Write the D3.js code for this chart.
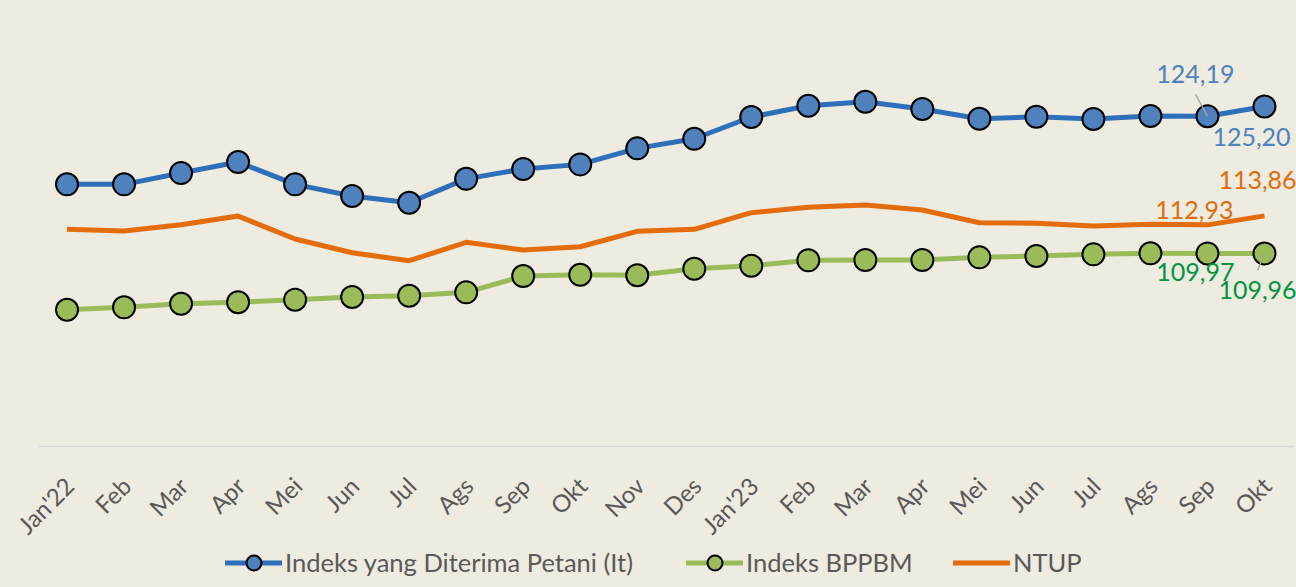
<!DOCTYPE html>
<html>
<head>
<meta charset="utf-8">
<script src="https://cdn.jsdelivr.net/npm/d3@7"></script>
<style>
  body { margin: 0; background: #eeebe0; }
  svg { display: block; }
</style>
</head>
<body>
<div id="chart"></div>
<script>
// categories
var months = ["Jan'22", "Feb", "Mar", "Apr", "Mei", "Jun", "Jul", "Ags", "Sep", "Okt", "Nov", "Des",
  "Jan'23", "Feb", "Mar", "Apr", "Mei", "Jun", "Jul", "Ags", "Sep", "Okt"];

// series values
var itValues = [117.13, 117.13, 118.30, 119.44, 117.13, 115.92, 115.22, 117.70, 118.72, 119.20, 120.86, 121.86,
  124.11, 125.28, 125.69, 124.94, 123.93, 124.14, 123.90, 124.22, 124.19, 125.20];
var bppbmValues = [104.13, 104.38, 104.75, 104.90, 105.17, 105.45, 105.58, 105.93, 107.62, 107.76, 107.70, 108.38,
  108.69, 109.25, 109.28, 109.28, 109.56, 109.70, 109.87, 109.98, 109.97, 109.96];
var ntupValues = [112.47, 112.29, 112.94, 113.84, 111.46, 110.04, 109.21, 111.12, 110.32, 110.66, 112.26, 112.47,
  114.19, 114.75, 114.98, 114.47, 113.15, 113.09, 112.81, 112.98, 112.93, 113.86];

var seriesNames = ["Indeks yang Diterima Petani (It)", "Indeks BPPBM", "NTUP"];

var W = 1296, H = 587;
var margin = { top: 12, right: 3, bottom: 141, left: 38.5 };
var font = "Lato, 'Open Sans', sans-serif";

var series = [
  { name: seriesNames[0], values: itValues, line: "#2e6fba", fill: "#4f81bd", label: "#4f81bd", marker: true },
  { name: seriesNames[1], values: bppbmValues, line: "#9bbb59", fill: "#9bbb59", label: "#00963f", marker: true },
  { name: seriesNames[2], values: ntupValues, line: "#e46c0a", fill: "#e46c0a", label: "#e46c0a", marker: false }
];

// data labels on the last two points: [series index, point index, dx, dy, leader]
var labels = [
  [0, 20, -12, -33, true],
  [0, 21, -13, 39, false],
  [2, 21, -7, -27, false],
  [2, 20, -13, -6, false],
  [1, 20, -12, 28, false],
  [1, 21, -7, 46, true]
];

var svg = d3.select("#chart").append("svg")
  .attr("width", W)
  .attr("height", H)
  .style("font-family", font);

svg.append("rect").attr("width", W).attr("height", H).attr("fill", "#eeebe0");

var x = d3.scaleBand()
  .domain(d3.range(months.length))
  .range([margin.left, W - margin.right]);

var y = d3.scaleLinear()
  .domain([90, 135])
  .range([H - margin.bottom, margin.top]);

var cx = function (i) { return x(i) + x.bandwidth() / 2; };

// x axis
var xAxis = d3.axisBottom(x).tickSize(0).tickFormat(function (i) { return months[i]; });
var gx = svg.append("g")
  .attr("transform", "translate(0," + y(90) + ")")
  .call(xAxis)
  .attr("font-family", font);
gx.select(".domain").attr("stroke", "#d9d9d9").attr("stroke-width", 1.5);
gx.selectAll(".tick text")
  .attr("fill", "#595959")
  .style("font-size", "24px")
  .attr("text-anchor", "end")
  .attr("dy", "0.35em")
  .attr("y", 0)
  .attr("transform", "translate(3,36) rotate(-45)");

// lines and markers
var line = d3.line()
  .x(function (d, i) { return cx(i); })
  .y(function (d) { return y(d); });

series.forEach(function (s) {
  svg.append("path")
    .datum(s.values)
    .attr("fill", "none")
    .attr("stroke", s.line)
    .attr("stroke-width", 5)
    .attr("stroke-linejoin", "round")
    .attr("d", line);

  if (s.marker) {
    svg.selectAll(null)
      .data(s.values)
      .enter()
      .append("circle")
      .attr("cx", function (d, i) { return cx(i); })
      .attr("cy", function (d) { return y(d); })
      .attr("r", 11)
      .attr("fill", s.fill)
      .attr("stroke", "#000")
      .attr("stroke-width", 2);
  }
});

// data labels
labels.forEach(function (l) {
  var s = series[l[0]];
  var v = s.values[l[1]];
  var px = cx(l[1]), py = y(v);
  if (l[4]) {
    var lx = px + l[2], ly = py + (l[3] < 0 ? l[3] + 11 : l[3] - 29);
    svg.append("line")
      .attr("x1", lx).attr("y1", ly)
      .attr("x2", px).attr("y2", py)
      .attr("stroke", "#a6a6a6").attr("stroke-width", 1.5);
  }
  svg.append("text")
    .attr("x", px + l[2])
    .attr("y", py + l[3])
    .attr("text-anchor", "middle")
    .attr("fill", s.label)
    .style("font-size", "25px")
    .text(d3.format(".2f")(v).replace(".", ","));
});

// legend
var legendX = [225, 686, 953];
var legend = svg.append("g").attr("transform", "translate(0,563)");
series.forEach(function (s, i) {
  var g = legend.append("g").attr("transform", "translate(" + legendX[i] + ",0)");
  g.append("line")
    .attr("x1", 0).attr("x2", 57)
    .attr("stroke", s.line).attr("stroke-width", 5);
  if (s.marker) {
    g.append("circle")
      .attr("cx", 29).attr("r", 7.5)
      .attr("fill", s.fill).attr("stroke", "#000").attr("stroke-width", 2);
  }
  g.append("text")
    .attr("x", 60)
    .attr("dy", "0.35em")
    .attr("fill", "#595959")
    .style("font-size", "25.5px")
    .text(s.name);
});
</script>
</body>
</html>
